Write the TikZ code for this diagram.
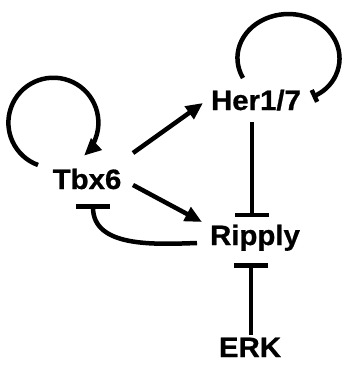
\documentclass[tikz,border=0pt]{standalone}
\usepackage{fontspec}
\setmainfont{Liberation Sans}
\newfontfamily\genefont{Liberation Sans Bold}[FakeBold=0.8]
\usetikzlibrary{arrows.meta}

\tikzset{
  gene/.style = {font=\fontsize{28}{32}\selectfont\genefont, inner sep=0pt, anchor=base},
  act/.style = {line width=4.5pt, -{Triangle[length=17pt,width=15pt]}},
  inh/.style = {line width=4.5pt, -{Bar[width=34pt,line width=4.5pt]}},
  inhloop/.style = {line width=4.5pt, -{Bar[width=13pt,line width=4.5pt]}}
}

\begin{document}
\begin{tikzpicture}
    [x=1pt, y=1pt]
    \useasboundingbox (0,0) rectangle (344,-369);
    \node[gene] (tbx6) at (87,-189) {\scalebox{1.05}[1]{Tbx6}};
    \node[gene] (her) at (256,-110) {\scalebox{1.05}[1]{Her1/7}};
    \node[gene] (ripply) at (255,-245) {\scalebox{1.05}[1]{Ripply}};
    \node[gene] (erk) at (250,-357) {\scalebox{1.05}[1]{ERK}};

    % activation
    \draw[act] ([shift={(46,36)}]tbx6.base) -- ([shift={(-53,7)}]her.base);
    \draw[act] ([shift={(46,4)}]tbx6.base) -- ([shift={(-53,23)}]ripply.base);
    \draw[act] ([shift={(-49,24)}]tbx6.base) arc[start angle=250, end angle=-47, radius=45];

    % inhibition
    \draw[inh] ([shift={(-4,-12)}]her.base) -- ([shift={(-3,28)}]ripply.base);
    \draw[inh] ([shift={(1,22)}]erk.base) -- ([shift={(-4,-18)}]ripply.base);
    \draw[inh] ([shift={(-58,2)}]ripply.base) to[out=182, in=-90] ([shift={(6,-15)}]tbx6.base);
    \draw[inhloop] ([shift={(-13,32)}]her.base) arc[start angle=207, end angle=-62, x radius=51, y radius=44];
  \end{tikzpicture}
\end{document}
